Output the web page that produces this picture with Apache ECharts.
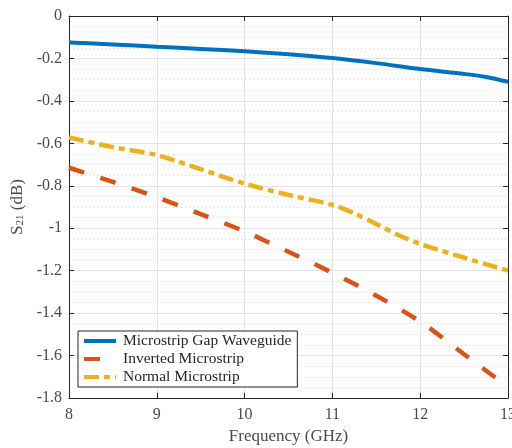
<!DOCTYPE html>
<html>
<head>
<meta charset="utf-8">
<script src="https://cdn.jsdelivr.net/npm/echarts@6/dist/echarts.min.js"></script>
<style>
  html, body { margin: 0; padding: 0; background: #fff; }
  #chart { width: 512px; height: 448px; }
</style>
</head>
<body>
<div id="chart"></div>
<script>
// Frequency samples (GHz) and S21 (dB) for each structure
var freqGap = [8, 8.5, 9, 9.5, 10, 10.5, 11, 11.5, 12, 12.5, 12.75, 13];
var s21Gap = [-0.125, -0.134, -0.145, -0.155, -0.166, -0.18, -0.198, -0.222, -0.25, -0.273, -0.287, -0.31];

var freqInv = [8, 8.5, 9, 9.5, 10, 10.5, 11, 11.5, 12, 12.5, 13];
var s21Inv = [-0.715, -0.782, -0.854, -0.934, -1.015, -1.111, -1.21, -1.318, -1.44, -1.594, -1.748];

var freqNorm = [8, 8.5, 9, 9.5, 10, 10.5, 11, 11.25, 11.5, 11.75, 12, 12.5, 13];
var s21Norm = [-0.572, -0.618, -0.655, -0.722, -0.79, -0.843, -0.89, -0.93, -0.98, -1.032, -1.074, -1.139, -1.2];

var seriesNames = ['Microstrip Gap Waveguide', 'Inverted Microstrip', 'Normal Microstrip'];
var xTicks = [8, 9, 10, 11, 12, 13];
var yTicks = [0, -0.2, -0.4, -0.6, -0.8, -1, -1.2, -1.4, -1.6, -1.8];

function pairs(xs, ys) {
  return xs.map(function (x, i) { return [x, ys[i]]; });
}

var FONT = 'Liberation Serif';
var AXIS = '#262626';
var LABEL = '#4a4a4a';

var chart = echarts.init(document.getElementById('chart'), null, { renderer: 'canvas' });

var xBase = {
  type: 'value', min: xTicks[0], max: xTicks[xTicks.length - 1], interval: 1,
  axisLine: { show: true, onZero: false, lineStyle: { color: AXIS, width: 1 } },
  axisTick: { show: true, inside: true, length: 5, lineStyle: { color: AXIS } }
};
var yBase = {
  type: 'value', min: yTicks[yTicks.length - 1], max: yTicks[0], interval: 0.2,
  axisLine: { show: true, onZero: false, lineStyle: { color: AXIS, width: 1 } },
  axisTick: { show: true, inside: true, length: 5, lineStyle: { color: AXIS } }
};

chart.setOption({
  animation: false,
  backgroundColor: '#fff',
  grid: { left: 69, right: 4, top: 16, bottom: 50, containLabel: false, outerBoundsMode: 'none' },
  legend: {
    orient: 'vertical',
    left: 78, top: 331,
    width: 220,
    padding: [2, 6, 2, 4],
    itemGap: 2,
    itemWidth: 32, itemHeight: 14,
    backgroundColor: '#fff',
    borderColor: AXIS, borderWidth: 1,
    itemStyle: { opacity: 0 },
    lineStyle: { width: 4 },
    textStyle: { fontFamily: FONT, fontSize: 15.5, lineHeight: 14, color: '#262626', padding: [0, 0, 0, 2] },
    data: seriesNames
  },
  xAxis: [
    Object.assign({}, xBase, {
      position: 'bottom',
      name: 'Frequency (GHz)', nameLocation: 'middle', nameGap: 28,
      nameTextStyle: { fontFamily: FONT, fontSize: 17, color: LABEL },
      axisLabel: { fontFamily: FONT, fontSize: 16, color: LABEL, margin: 9 },
      splitLine: { show: true, lineStyle: { color: '#e4e4e4', width: 1 } }
    }),
    Object.assign({}, xBase, {
      position: 'top',
      axisLabel: { show: false },
      splitLine: { show: false }
    })
  ],
  yAxis: [
    Object.assign({}, yBase, {
      position: 'left',
      name: '{m|S}{s|21}{m| (dB)}', nameLocation: 'middle', nameGap: 40, nameRotate: 90,
      nameTextStyle: {
        color: LABEL,
        rich: {
          m: { fontFamily: FONT, fontSize: 17, color: LABEL },
          s: { fontFamily: FONT, fontSize: 11, color: LABEL, verticalAlign: 'bottom', padding: [6, 0, 0, 0] }
        }
      },
      axisLabel: {
        fontFamily: FONT, fontSize: 16, color: LABEL, margin: 7,
        formatter: function (v) { return String(Math.round(v * 10) / 10); }
      },
      splitLine: { show: true, lineStyle: { color: '#e4e4e4', width: 1 } },
      minorTick: { show: false, splitNumber: 4 },
      minorSplitLine: { show: true, lineStyle: { color: '#d2d2d2', width: 1, type: [1, 3] } }
    }),
    Object.assign({}, yBase, {
      position: 'right',
      axisLabel: { show: false },
      splitLine: { show: false }
    })
  ],
  series: [
    {
      name: seriesNames[0], type: 'line', xAxisIndex: 0, yAxisIndex: 0,
      data: pairs(freqGap, s21Gap), smooth: 0.3, symbol: 'none',
      lineStyle: { color: '#0072bd', width: 4 }, itemStyle: { color: '#0072bd' }
    },
    {
      name: seriesNames[1], type: 'line', xAxisIndex: 0, yAxisIndex: 0,
      data: pairs(freqInv, s21Inv), smooth: 0.3, symbol: 'none',
      lineStyle: { color: '#d95319', width: 4.5, type: [16, 17], cap: 'butt' }, itemStyle: { color: '#d95319' }
    },
    {
      name: seriesNames[2], type: 'line', xAxisIndex: 0, yAxisIndex: 0,
      data: pairs(freqNorm, s21Norm), smooth: 0.3, symbol: 'none',
      lineStyle: { color: '#edb120', width: 4.5, type: [15, 5, 6, 5], cap: 'butt' }, itemStyle: { color: '#edb120' }
    }
  ]
});
</script>
</body>
</html>
